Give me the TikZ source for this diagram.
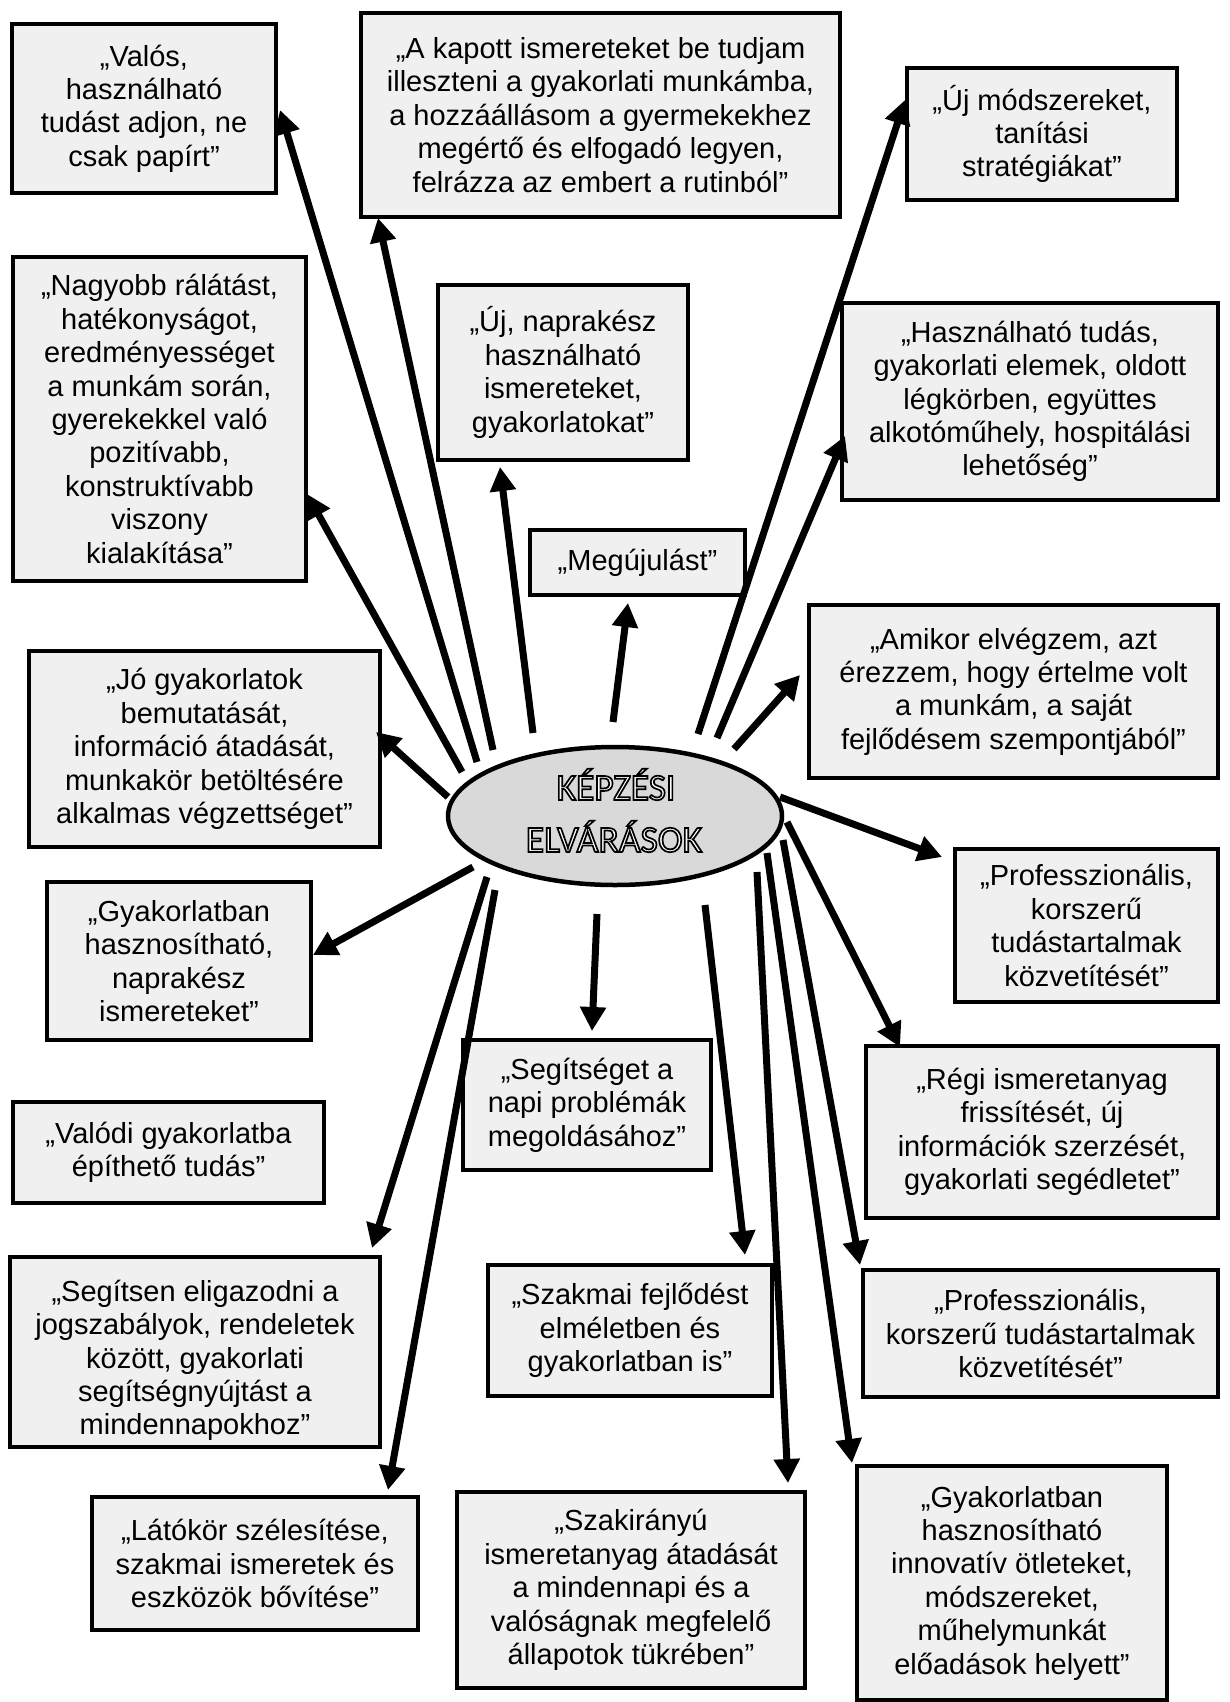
\documentclass[tikz,border=0pt]{standalone}
\usepackage{fontspec}
\setmainfont{Liberation Sans}
\newfontfamily\calb{Carlito}
\usetikzlibrary{arrows.meta,shapes.geometric,shadows}
\definecolor{boxfill}{HTML}{F0F0F0}
\definecolor{ellfill}{HTML}{D9D9D9}
\newcommand{\strokeon}{\special{pdf:literal direct 1 Tr 1.7 w}}
\newcommand{\strokeoff}{\special{pdf:literal direct 0 Tr}}
\begin{document}
\begin{tikzpicture}[x=1pt,y=-1pt,
  bx/.style={draw=black, line width=4.5pt, fill=boxfill, inner sep=0pt, align=center,
    font=\fontsize{29pt}{33.4pt}\selectfont,
    drop shadow={shadow xshift=1.5pt, shadow yshift=-1.5pt, fill=black, opacity=1}},
  arr/.style={line width=7pt, -{Triangle[length=24pt,width=25pt]}},
  filll/.style={anchor=base, inner sep=0pt, font=\calb\fontsize{37.5pt}{40pt}\selectfont, text=white},
  strokel/.style={anchor=base, inner sep=0pt, font=\calb\fontsize{37.5pt}{40pt}\selectfont, text=black}]
\useasboundingbox[fill=white] (0,0) rectangle (1229,1702);

% boxes
\node[bx, minimum width=264pt, minimum height=169pt] (valos) at (144,108.5)
  {„Valós,\\használható\\tudást adjon, ne\\csak papírt”};
\node[bx, minimum width=479pt, minimum height=204pt] (kapott) at (600.5,115)
  {„A kapott ismereteket be tudjam\\illeszteni a gyakorlati munkámba,\\a hozzáállásom a gyermekekhez\\megértő és elfogadó legyen,\\felrázza az embert a rutinból”};
\node[bx, minimum width=270pt, minimum height=132pt] (ujmod) at (1042,134)
  {„Új módszereket,\\tanítási\\stratégiákat”};
\node[bx, minimum width=293pt, minimum height=324pt] (nagyobb) at (159.5,419)
  {„Nagyobb rálátást,\\hatékonyságot,\\eredményességet\\a munkám során,\\gyerekekkel való\\pozitívabb,\\konstruktívabb\\viszony\\kialakítása”};
\node[bx, minimum width=250pt, minimum height=175pt] (ujnap) at (563,372.5)
  {„Új, naprakész\\használható\\ismereteket,\\gyakorlatokat”};
\node[bx, minimum width=376pt, minimum height=197pt] (hasznal) at (1030,401.5)
  {„Használható tudás,\\gyakorlati elemek, oldott\\légkörben, együttes\\alkotóműhely, hospitálási\\lehetőség”};
\node[bx, minimum width=215pt, minimum height=65pt] (megujul) at (637.5,562.5)
  {„Megújulást”};
\node[bx, minimum width=409pt, minimum height=173pt] (amikor) at (1013.5,691.5)
  {„Amikor elvégzem, azt\\érezzem, hogy értelme volt\\a munkám, a saját\\fejlődésem szempontjából”};
\node[bx, minimum width=351pt, minimum height=196pt] (jo) at (204.5,749)
  {„Jó gyakorlatok\\bemutatását,\\információ átadását,\\munkakör betöltésére\\alkalmas végzettséget”};
\node[bx, minimum width=263pt, minimum height=153pt] (prof1) at (1086.5,925.5)
  {„Professzionális,\\korszerű\\tudástartalmak\\közvetítését”};
\node[bx, minimum width=264pt, minimum height=158pt] (gyak1) at (179,961)
  {„Gyakorlatban\\hasznosítható,\\naprakész\\ismereteket”};
\node[bx, minimum width=248pt, minimum height=130pt] (segitseget) at (587,1105)
  {„Segítséget a\\napi problémák\\megoldásához”};
\node[bx, minimum width=352pt, minimum height=172pt] (regi) at (1042,1132)
  {„Régi ismeretanyag\\frissítését, új\\információk szerzését,\\gyakorlati segédletet”};
\node[bx, minimum width=311pt, minimum height=101pt] (valodi) at (168.5,1152.5)
  {„Valódi gyakorlatba\\építhető tudás”};
\node[bx, minimum width=370pt, minimum height=190pt] (segitsen) at (195,1352)
  {\rule{0pt}{38pt}„Segítsen eligazodni a\\jogszabályok, rendeletek\\között, gyakorlati\\segítségnyújtást a\\mindennapokhoz”};
\node[bx, minimum width=284pt, minimum height=131pt] (szakmai) at (630,1330.5)
  {„Szakmai fejlődést\\elméletben és\\gyakorlatban is”};
\node[bx, minimum width=355pt, minimum height=127pt] (prof2) at (1040.5,1333.5)
  {„Professzionális,\\korszerű tudástartalmak\\közvetítését”};
\node[bx, minimum width=326pt, minimum height=133pt] (latokor) at (255,1563.5)
  {„Látókör szélesítése,\\szakmai ismeretek és\\eszközök bővítése”};
\node[bx, minimum width=348pt, minimum height=196pt] (szakir) at (631,1590)
  {„Szakirányú\\ismeretanyag átadását\\a mindennapi és a\\valóságnak megfelelő\\állapotok tükrében”};
\node[bx, minimum width=310pt, minimum height=234pt] (innov) at (1012,1583)
  {„Gyakorlatban\\hasznosítható\\innovatív ötleteket,\\módszereket,\\műhelymunkát\\előadások helyett”};

% arrow end points
\coordinate (s-valos) at (477,762);      \coordinate (t-valos) at (280,110);
\coordinate (s-kapott) at (493,750);     \coordinate (t-kapott) at (378,218);
\coordinate (s-nagyobb) at (462,772);    \coordinate (t-nagyobb) at (307,494);
\coordinate (s-ujnap) at (533,733);      \coordinate (t-ujnap) at (500,467);
\coordinate (s-megujul) at (613,722);    \coordinate (t-megujul) at (628,603);
\coordinate (s-ujmod) at (698,734);      \coordinate (t-ujmod) at (905,100);
\coordinate (s-hasznal) at (717,738);    \coordinate (t-hasznal) at (845,436);
\coordinate (s-amikor) at (734,749);     \coordinate (t-amikor) at (800,675);
\coordinate (s-jo) at (448,797);         \coordinate (t-jo) at (376,732);
\coordinate (s-gyak1) at (473,867);      \coordinate (t-gyak1) at (313,955);
\coordinate (s-prof1) at (780,797);      \coordinate (t-prof1) at (942,857);
\coordinate (s-regi) at (787,822);       \coordinate (t-regi) at (900,1047);
\coordinate (s-segitseget) at (597,914); \coordinate (t-segitseget) at (592,1031);
\coordinate (s-segitsen) at (487,877);   \coordinate (t-segitsen) at (372,1248);
\coordinate (s-latokor) at (495,890);    \coordinate (t-latokor) at (388,1490);
\coordinate (s-szakmai) at (705,905);    \coordinate (t-szakmai) at (745,1255);
\coordinate (s-prof2) at (783,840);      \coordinate (t-prof2) at (860,1265);
\coordinate (s-szakir) at (757,872);     \coordinate (t-szakir) at (788,1483);
\coordinate (s-innov) at (767,853);      \coordinate (t-innov) at (852,1463);

\foreach \n in {valos,kapott,nagyobb,ujnap,megujul,ujmod,hasznal,amikor,jo,gyak1,prof1,regi,segitseget,segitsen,latokor,szakmai,prof2,szakir,innov}
  \draw[arr] (s-\n) -- (t-\n);

% centre
\node[ellipse, draw=black, line width=4.5pt, fill=ellfill, minimum width=334pt, minimum height=138pt, inner sep=0pt] (ell) at (615,816) {};
\node[filll] (k1f) at (616,800) {KÉPZÉSI};
\node[filll] (k2f) at (614,852) {ELVÁRÁSOK};
\node[strokel] (k1s) at (616,800) {\strokeon KÉPZÉSI\strokeoff};
\node[strokel] (k2s) at (614,852) {\strokeon ELVÁRÁSOK\strokeoff};
\end{tikzpicture}
\end{document}
